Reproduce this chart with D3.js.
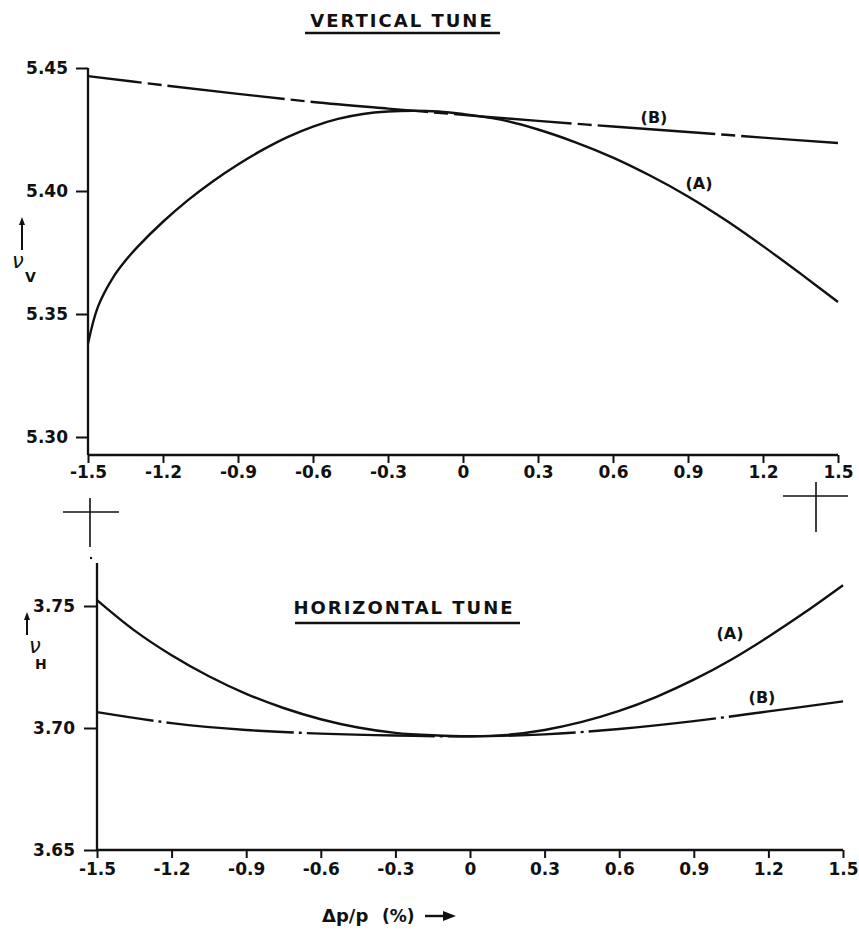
<!DOCTYPE html>
<html>
<head>
<meta charset="utf-8">
<script src="https://cdn.jsdelivr.net/npm/d3@7"></script>
<style>
  body { margin: 0; background: #fff; }
  svg { display: block; }
  text { font-family: "DejaVu Sans", sans-serif; font-weight: bold; fill: #111; }
  .tick line { stroke: #111; stroke-width: 2; }
  .curve { fill: none; stroke: #111; stroke-width: 2.4; }
  .axis-line { stroke: #111; stroke-width: 2.3; }
</style>
</head>
<body>
<div id="chart"></div>
<script>
// Vertical tune, curve (A)
const vaDp = [-1.5, -1.46, -1.4, -1.35, -1.3, -1.2, -1.1, -1.0, -0.9, -0.8, -0.7, -0.6, -0.5, -0.4, -0.3, -0.2, -0.1, 0, 0.15, 0.3, 0.45, 0.6, 0.75, 0.9, 1.05, 1.2, 1.35, 1.5];
const vaNu = [5.338, 5.353, 5.3648, 5.3717, 5.3775, 5.3875, 5.3963, 5.404, 5.4108, 5.4168, 5.422, 5.4262, 5.4293, 5.4313, 5.4323, 5.4326, 5.4323, 5.4313, 5.429, 5.425, 5.4198, 5.4136, 5.4062, 5.3978, 5.3882, 5.3776, 5.3664, 5.3549];

// Vertical tune, curve (B)
const vbDp = [-1.5, -1.2, -0.9, -0.6, -0.3, -0.1, 0.1, 0.3, 0.6, 0.9, 1.2, 1.5];
const vbNu = [5.4467, 5.443, 5.4395, 5.4362, 5.4335, 5.4318, 5.4301, 5.4285, 5.4262, 5.424, 5.4217, 5.4195];

// Horizontal tune, curve (A)
const haDp = [-1.5, -1.35, -1.2, -1.05, -0.9, -0.75, -0.6, -0.45, -0.3, -0.15, 0, 0.15, 0.3, 0.45, 0.6, 0.75, 0.9, 1.05, 1.2, 1.35, 1.5];
const haNu = [3.7524, 3.74, 3.7298, 3.7212, 3.714, 3.7082, 3.7036, 3.7002, 3.698, 3.697, 3.6966, 3.6972, 3.6992, 3.7025, 3.707, 3.7128, 3.7198, 3.728, 3.7374, 3.7476, 3.7585];

// Horizontal tune, curve (B)
const hbDp = [-1.5, -1.2, -0.9, -0.6, -0.3, 0, 0.3, 0.6, 0.9, 1.2, 1.5];
const hbNu = [3.7065, 3.702, 3.6992, 3.6977, 3.6969, 3.6966, 3.6974, 3.6996, 3.7028, 3.7068, 3.7109];

// Tick values
const dpTicks = [-1.5, -1.2, -0.9, -0.6, -0.3, 0, 0.3, 0.6, 0.9, 1.2, 1.5];
const nuVTicks = [5.30, 5.35, 5.40, 5.45];
const nuHTicks = [3.65, 3.70, 3.75];

const width = 859;
const height = 930;

const svg = d3.select("#chart")
  .append("svg")
  .attr("width", width)
  .attr("height", height);

const fmtDp = (d) => (d === 0 ? "0" : d3.format(".1f")(d).replace("\u2212", "-"));

// Panel builder
function drawPanel(opt) {
  const x = d3.scaleLinear().domain([-1.5, 1.5]).range(opt.xRange);
  const y = d3.scaleLinear().domain(opt.yDomain).range(opt.yRange);
  const g = svg.append("g");

  // x axis
  const xAxis = g.append("g")
    .attr("transform", `translate(0,${opt.axisY})`)
    .call(d3.axisBottom(x).tickValues(dpTicks).tickSize(8).tickPadding(opt.xPad).tickFormat(fmtDp));
  xAxis.select(".domain").remove();
  xAxis.selectAll("text").style("font-size", "17px");
  g.append("line").attr("class", "axis-line")
    .attr("x1", x(-1.5)).attr("x2", x(1.5))
    .attr("y1", opt.axisY).attr("y2", opt.axisY);

  // y axis
  const yAxis = g.append("g")
    .attr("transform", `translate(${x(-1.5)},0)`)
    .call(d3.axisLeft(y).tickValues(opt.yTicks).tickSize(opt.yTickSize).tickPadding(opt.yPad).tickFormat(d3.format(".2f")));
  yAxis.select(".domain").remove();
  yAxis.selectAll("text").style("font-size", "17px");
  g.append("line").attr("class", "axis-line")
    .attr("x1", x(-1.5)).attr("x2", x(-1.5))
    .attr("y1", opt.yTop).attr("y2", opt.axisY);

  const line = d3.line()
    .x((d) => x(d[0]))
    .y((d) => y(d[1]))
    .curve(d3.curveCatmullRom.alpha(0.5));

  g.append("path").attr("class", "curve")
    .datum(d3.zip(opt.aDp, opt.aNu))
    .attr("d", line);

  g.append("path").attr("class", "curve")
    .datum(d3.zip(opt.bDp, opt.bNu))
    .attr("d", line)
    .attr("stroke-dasharray", opt.bDash)
    .attr("stroke-dashoffset", opt.bOffset);

  return { x, y, g };
}

const vPanel = drawPanel({
  xRange: [88, 838],
  yDomain: [5.30, 5.45],
  yRange: [437, 68],
  axisY: 455,
  xPad: 3,
  yTop: 68,
  yTicks: nuVTicks,
  yTickSize: 12,
  yPad: 8,
  aDp: vaDp, aNu: vaNu,
  bDp: vbDp, bNu: vbNu,
  bDash: "118,6,14,6",
  bOffset: -80,
});

const hPanel = drawPanel({
  xRange: [97, 843],
  yDomain: [3.65, 3.75],
  yRange: [850, 606],
  axisY: 850,
  xPad: 5,
  yTop: 563,
  yTicks: nuHTicks,
  yTickSize: 13,
  yPad: 9,
  aDp: haDp, aNu: haNu,
  bDp: hbDp, bNu: hbNu,
  bDash: "128,5,3,5",
  bOffset: -70,
});

// Titles with underlines
function title(txt, cx, by, ux1, ux2, uy) {
  svg.append("text")
    .attr("x", cx).attr("y", by)
    .attr("text-anchor", "middle")
    .style("font-size", "18px")
    .style("letter-spacing", "2px")
    .text(txt);
  svg.append("line").attr("class", "axis-line")
    .attr("x1", ux1).attr("x2", ux2).attr("y1", uy).attr("y2", uy);
}
title("VERTICAL TUNE", 402, 27, 305, 500, 33);
title("HORIZONTAL TUNE", 404, 614, 295, 520, 623);

// Curve labels
const labels = [
  { t: "(B)", x: 654, y: 123 },
  { t: "(A)", x: 699, y: 189 },
  { t: "(A)", x: 730, y: 639 },
  { t: "(B)", x: 762, y: 703 },
];
svg.selectAll(".lbl")
  .data(labels)
  .join("text")
  .attr("class", "lbl")
  .attr("x", (d) => d.x).attr("y", (d) => d.y)
  .attr("text-anchor", "middle")
  .style("font-size", "16px")
  .text((d) => d.t);

// nu symbols with upward arrows
function nuLabel(ax, ay1, ay2, nx, ny, sub, sx, sy) {
  svg.append("line")
    .attr("x1", ax).attr("x2", ax).attr("y1", ay1).attr("y2", ay2 + 4)
    .attr("stroke", "#111").attr("stroke-width", 2);
  svg.append("path")
    .attr("d", `M${ax - 3},${ay2 + 7}L${ax},${ay2 - 1}L${ax + 3},${ay2 + 7}Z`)
    .attr("fill", "#111");
  svg.append("text")
    .attr("x", nx).attr("y", ny)
    .style("font-size", "21px")
    .style("font-style", "italic")
    .style("font-weight", "normal")
    .text("\u03bd");
  svg.append("text")
    .attr("x", sx).attr("y", sy)
    .style("font-size", "14px")
    .text(sub);
}
nuLabel(22, 250, 218, 12, 268, "V", 25, 282);
nuLabel(27, 635, 613, 29, 653, "H", 35, 669);

// Registration crosses between panels
const crosses = [
  { hx1: 63, hx2: 119, hy: 512, vx: 90, vy1: 498, vy2: 547 },
  { hx1: 783, hx2: 848, hy: 496, vx: 816, vy1: 482, vy2: 532 },
];
crosses.forEach((c) => {
  svg.append("line").attr("stroke", "#111").attr("stroke-width", 1.6)
    .attr("x1", c.hx1).attr("x2", c.hx2).attr("y1", c.hy).attr("y2", c.hy);
  svg.append("line").attr("stroke", "#111").attr("stroke-width", 1.6)
    .attr("x1", c.vx).attr("x2", c.vx).attr("y1", c.vy1).attr("y2", c.vy2);
});
svg.append("circle").attr("cx", 91).attr("cy", 558).attr("r", 1.2).attr("fill", "#111");

// x axis title
svg.append("text")
  .attr("x", 322).attr("y", 922)
  .style("font-size", "18px")
  .text("\u0394p/p");
svg.append("text")
  .attr("x", 382).attr("y", 922)
  .style("font-size", "17px")
  .text("(%)");
svg.append("line")
  .attr("x1", 425).attr("x2", 448).attr("y1", 916).attr("y2", 916)
  .attr("stroke", "#111").attr("stroke-width", 2.4);
svg.append("path")
  .attr("d", "M443,911L456,916L443,921Z")
  .attr("fill", "#111");
</script>
</body>
</html>
